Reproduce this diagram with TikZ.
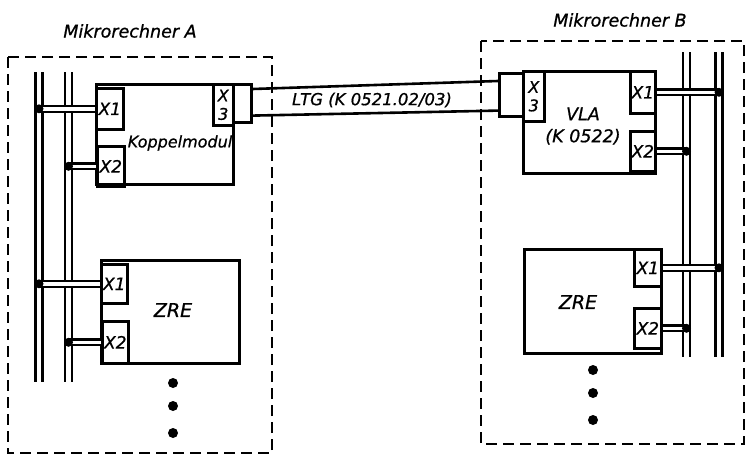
\documentclass[tikz,border=0pt]{standalone}
\usepackage{fontspec}
\setmainfont{DejaVu Sans}
\newfontfamily\lf{DejaVu Sans}[ItalicFeatures={FakeBold=0.8}]
\begin{document}
\begin{tikzpicture}[x=1pt,y=-1pt,
  frame/.style={line width=1.8pt, dash pattern=on 11pt off 6pt},
  box/.style={draw, line width=2.6pt, inner sep=0pt, anchor=north west},
  xbox/.style={box, font=\fontsize{17}{15}\lf\itshape},
  xvbox/.style={box, align=center, font=\fontsize{16}{18.5}\lf\itshape},
  bus/.style={line width=2.5pt, double, double distance=4.6pt},
  link/.style={line width=2.2pt, double, double distance=3.6pt},
  jdot/.style={circle, fill, inner sep=0pt, minimum size=9pt},
  edot/.style={circle, fill, inner sep=0pt, minimum size=10pt},
  cable/.style={line width=2.6pt},
  lbl/.style={font=\fontsize{17.5}{22}\lf\itshape, align=center}]
\useasboundingbox (0,0) rectangle (748,461);

% frames
\draw[frame] (8,57) rectangle (272,453);
\draw[frame] (481,41) rectangle (744,444);
\node[lbl] (ta) at (130,31) {Mikrorechner A};
\node[lbl] (tb) at (620,20) {Mikrorechner B};

% left buses
\coordinate (la1t) at (39,72);  \coordinate (la1b) at (39,382);
\coordinate (la2t) at (68.5,72); \coordinate (la2b) at (68.5,382);
\draw[bus] (la1t) -- (la1b);
\draw[bus] (la2t) -- (la2b);

% right buses
\coordinate (rb1t) at (686.5,52); \coordinate (rb1b) at (686.5,357);
\coordinate (rb2t) at (719,52);   \coordinate (rb2b) at (719,357);
\draw[bus] (rb1t) -- (rb1b);
\draw[bus] (rb2t) -- (rb2b);

% Koppelmodul
\node[box, minimum width=137pt, minimum height=100pt] (kop) at (95,83) {};
\node[xbox, minimum width=27pt, minimum height=41pt] (kx1) at (95,87) {X1};
\node[xbox, minimum width=27pt, minimum height=40pt] (kx2) at (96,145) {X2};
\node[xvbox, minimum width=20pt, minimum height=41pt] (kx3) at (212,83) {X\\3};
\node[box, minimum width=18pt, minimum height=38pt] (plA) at (232,83) {};
\node[lbl, font=\fontsize{16}{20}\lf\itshape] (kopl) at (180,143) {Koppelmodul};

% left ZRE
\node[box, minimum width=138pt, minimum height=103pt] (zA) at (100,259) {};
\node[xbox, minimum width=26pt, minimum height=39pt] (zax1) at (100,263) {X1};
\node[xbox, minimum width=26pt, minimum height=42pt] (zax2) at (101,320) {X2};
\node[lbl, font=\fontsize{19}{21}\lf\itshape] (zal) at (173,310) {ZRE};

% VLA
\node[box, minimum width=132pt, minimum height=102pt] (vla) at (522,70) {};
\node[xvbox, minimum width=21pt, minimum height=50pt] (vx3) at (522,70) {X\\3};
\node[box, minimum width=24pt, minimum height=43pt] (plB) at (498,72) {};
\node[xbox, minimum width=25pt, minimum height=42pt] (vx1) at (629,70) {X1};
\node[xbox, minimum width=25pt, minimum height=40pt] (vx2) at (629,130) {X2};
\node[lbl] (vlal) at (583,126) {VLA\\(K 0522)};

% right ZRE
\node[box, minimum width=137pt, minimum height=104pt] (zB) at (523,248) {};
\node[xbox, minimum width=27pt, minimum height=37pt] (zbx1) at (633,248) {X1};
\node[xbox, minimum width=27pt, minimum height=40pt] (zbx2) at (633,307) {X2};
\node[lbl, font=\fontsize{19}{21}\lf\itshape] (zbl) at (578,302) {ZRE};

% cable
\draw[cable] ([yshift=-6pt]plA.north east) -- ([yshift=-9pt]plB.north west);
\draw[cable] ([yshift=8pt]plA.south east) -- ([yshift=7pt]plB.south west);
\node[lbl, font=\fontsize{16.5}{20}\lf\itshape] (ltg) at (372,100) {LTG (K 0521.02/03)};

% links left
\draw[link] (kx1.west) -- (kx1.west -| la1t) node[jdot] (j1) {};
\draw[link] (kx2.west) -- (kx2.west -| la2t) node[jdot] (j2) {};
\draw[link] (zax1.west) -- (zax1.west -| la1t) node[jdot] (j3) {};
\draw[link] (zax2.west) -- (zax2.west -| la2t) node[jdot] (j4) {};
% links right
\draw[link] (vx1.east) -- (vx1.east -| rb2t) node[jdot] (j5) {};
\draw[link] (vx2.east) -- (vx2.east -| rb1t) node[jdot] (j6) {};
\draw[link] (zbx1.east) -- (zbx1.east -| rb2t) node[jdot] (j7) {};
\draw[link] (zbx2.east) -- (zbx2.east -| rb1t) node[jdot] (j8) {};

% continuation dots
\node[edot] (da1) at (173,383) {};
\node[edot] (da2) at (173,406) {};
\node[edot] (da3) at (173,433) {};
\node[edot] (db1) at (593,370) {};
\node[edot] (db2) at (593,393) {};
\node[edot] (db3) at (593,420) {};
\end{tikzpicture}
\end{document}
